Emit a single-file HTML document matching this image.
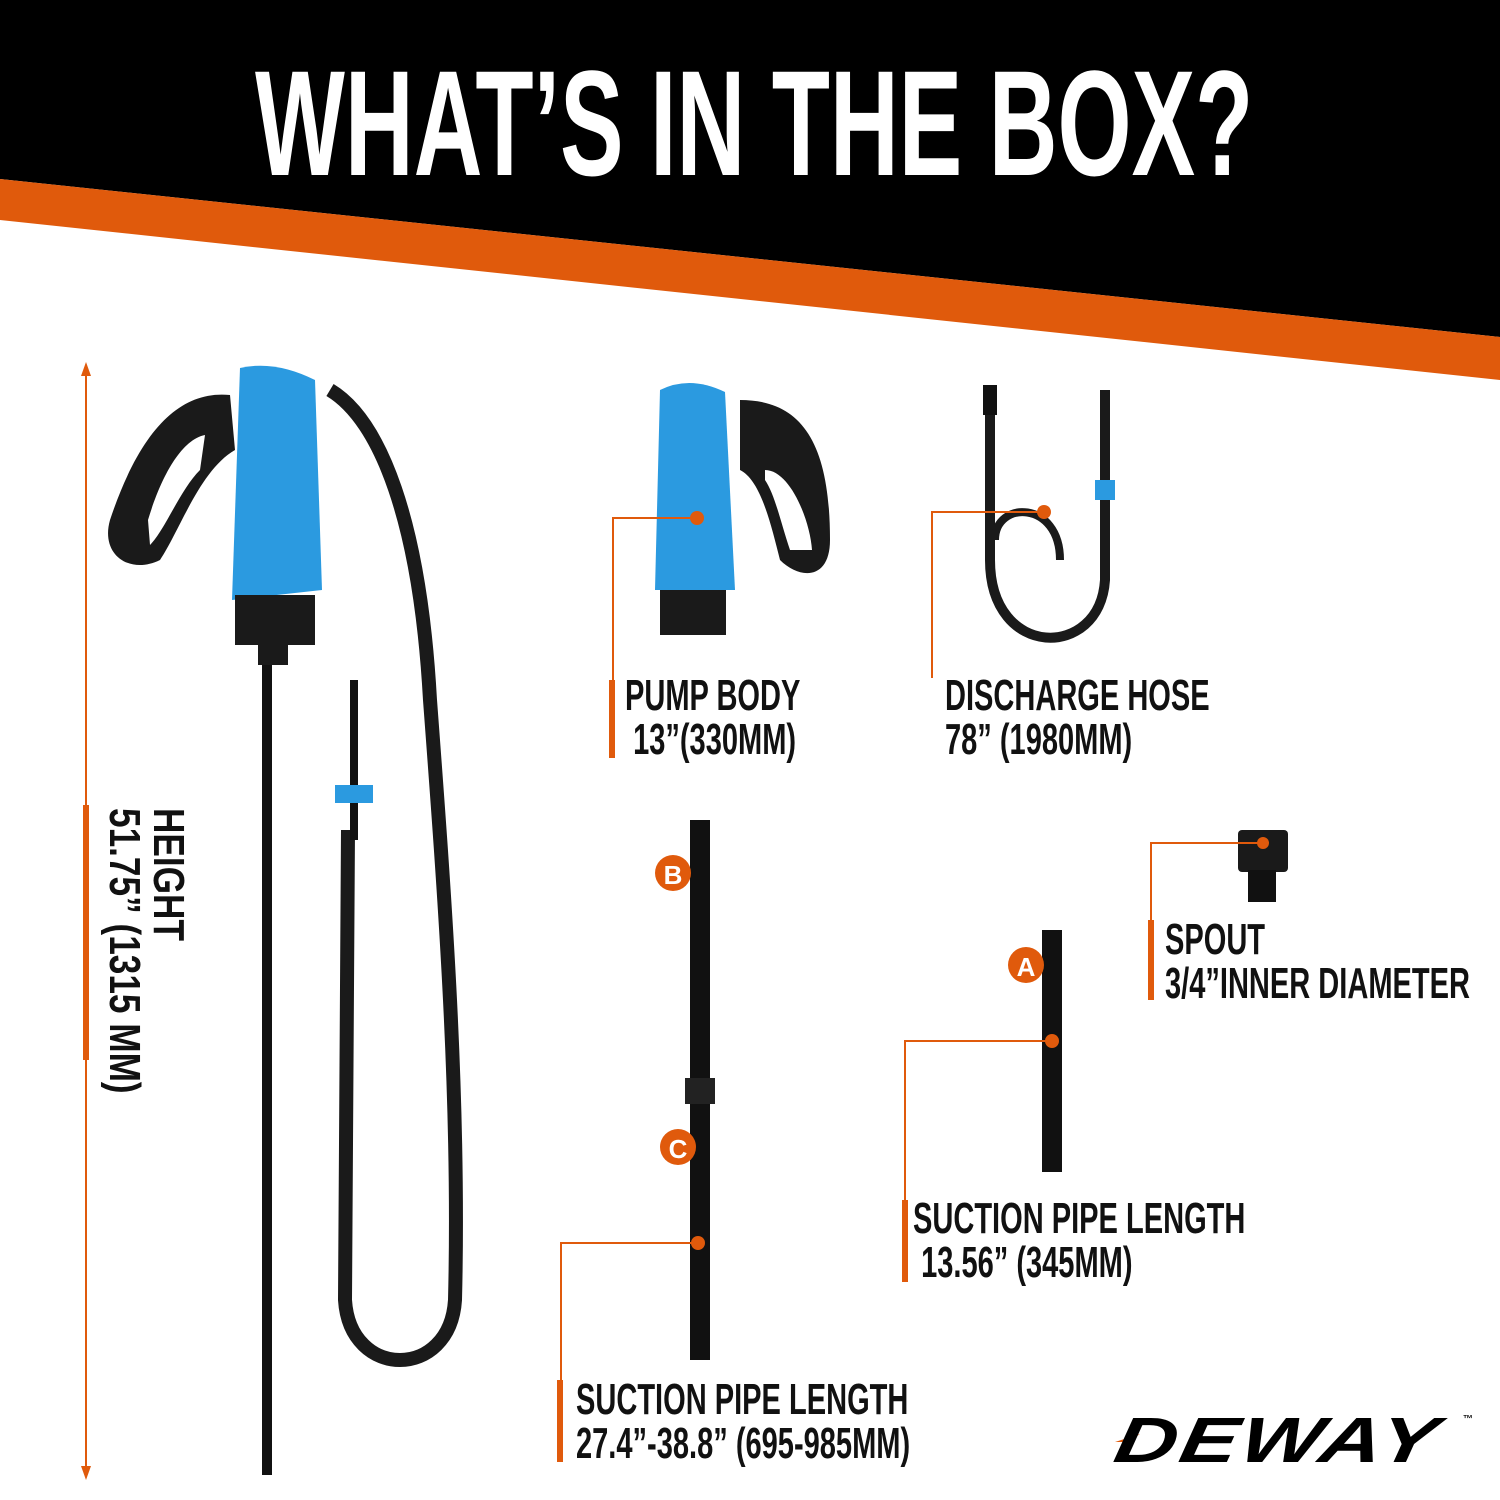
<!DOCTYPE html>
<html><head><meta charset="utf-8"><style>
body{margin:0;width:1500px;height:1500px;background:#fff;overflow:hidden;position:relative;font-family:"Liberation Sans Narrow","Liberation Sans",sans-serif}
.t{position:absolute;font-weight:bold;color:#111;white-space:nowrap;transform-origin:0 0;line-height:1}
.lbl{font-size:44px;transform:scaleX(.66)}
</style></head><body>
<svg width="1500" height="1500" style="position:absolute;left:0;top:0">
<polygon points="0,0 1500,0 1500,337 0,179" fill="#000"/>
<polygon points="0,179 1500,337 1500,380 0,220" fill="#e05a0c"/>
<line x1="86" y1="370" x2="86" y2="1475" stroke="#e05a0c" stroke-width="2"/>
<polygon points="86,362 81,376 91,376" fill="#e05a0c"/>
<polygon points="86,1480 81,1466 91,1466" fill="#e05a0c"/>
<rect x="83" y="805" width="6" height="255" fill="#e05a0c"/>
<path d="M230,395 C180,390 140,430 110,520 C100,555 130,575 160,560 C180,530 200,470 235,450 Z" fill="#1a1a1a"/>
<path d="M148,520 C160,480 180,440 205,435 L200,470 C180,490 165,530 150,545 Z" fill="#fff"/>
<path d="M240,368 Q275,360 315,380 L322,590 L232,600 Z" fill="#2b9ae0"/>
<rect x="235" y="595" width="80" height="50" fill="#1a1a1a"/>
<rect x="258" y="645" width="30" height="20" fill="#1a1a1a"/>
<rect x="262" y="665" width="10" height="810" fill="#111"/>
<path d="M330,390 C380,420 420,520 430,700 C445,900 460,1100 455,1300 C450,1380 350,1380 345,1300 L348,830" stroke="#1a1a1a" stroke-width="14" fill="none"/>
<rect x="350" y="680" width="8" height="160" fill="#111"/>
<rect x="335" y="785" width="38" height="18" fill="#2b9ae0"/>
<path d="M740,400 C800,400 830,440 830,540 C830,580 800,580 780,560 C770,520 760,480 740,470 Z" fill="#1a1a1a"/>
<path d="M765,470 C790,470 810,520 812,550 L790,550 C780,520 775,495 765,480 Z" fill="#fff"/>
<path d="M660,390 Q690,375 725,392 L735,590 L655,590 Z" fill="#2b9ae0"/>
<rect x="660" y="590" width="66" height="45" fill="#1a1a1a"/>
<circle cx="697" cy="518" r="7" fill="#e05a0c"/>
<polyline points="690,518 613,518 613,680" stroke="#e05a0c" stroke-width="2" fill="none"/>
<rect x="609" y="680" width="6" height="78" fill="#e05a0c"/>
<rect x="983" y="385" width="14" height="30" fill="#111"/>
<path d="M990,415 L990,560 C990,660 1100,660 1105,580 L1105,390" stroke="#1a1a1a" stroke-width="10" fill="none"/>
<path d="M995,540 C995,500 1060,500 1060,560" stroke="#1a1a1a" stroke-width="8" fill="none"/>
<rect x="1095" y="480" width="20" height="20" fill="#2b9ae0"/>
<circle cx="1044" cy="512" r="7" fill="#e05a0c"/>
<polyline points="1040,512 932,512 932,678" stroke="#e05a0c" stroke-width="2" fill="none"/>
<rect x="690" y="820" width="20" height="540" fill="#111"/>
<rect x="685" y="1078" width="30" height="26" fill="#222"/>
<circle cx="673" cy="873" r="18" fill="#e05a0c"/><text x="673" y="884" text-anchor="middle" font-size="26" font-weight="bold" fill="#fff" font-family="Liberation Sans">B</text>
<circle cx="678" cy="1147" r="18" fill="#e05a0c"/><text x="678" y="1158" text-anchor="middle" font-size="26" font-weight="bold" fill="#fff" font-family="Liberation Sans">C</text>
<circle cx="698" cy="1243" r="7" fill="#e05a0c"/>
<polyline points="694,1243 561,1243 561,1380" stroke="#e05a0c" stroke-width="2" fill="none"/>
<rect x="557" y="1380" width="6" height="82" fill="#e05a0c"/>
<rect x="1042" y="930" width="20" height="242" fill="#111"/>
<circle cx="1026" cy="965" r="18" fill="#e05a0c"/><text x="1026" y="976" text-anchor="middle" font-size="26" font-weight="bold" fill="#fff" font-family="Liberation Sans">A</text>
<circle cx="1052" cy="1041" r="7" fill="#e05a0c"/>
<polyline points="1048,1041 905,1041 905,1200" stroke="#e05a0c" stroke-width="2" fill="none"/>
<rect x="902" y="1200" width="6" height="82" fill="#e05a0c"/>
<rect x="1238" y="830" width="50" height="42" rx="4" fill="#1a1a1a"/>
<rect x="1248" y="870" width="28" height="32" fill="#111"/>
<circle cx="1263" cy="843" r="6" fill="#e05a0c"/>
<polyline points="1258,843 1151,843 1151,920" stroke="#e05a0c" stroke-width="2" fill="none"/>
<rect x="1148" y="920" width="6" height="80" fill="#e05a0c"/>
<polygon points="1115,1442 1140,1434 1128,1442" fill="#e05a0c"/>
</svg>
<div class="t" style="left:255px;top:48px;font-size:150px;color:#fff;transform:scaleX(.635)">WHAT’S IN THE BOX?</div>
<div class="t" style="left:190px;top:808px;font-size:44px;transform:rotate(90deg) scaleX(.8);line-height:1.0">HEIGHT<br>51.75” (1315 MM)</div>
<div class="t lbl" style="left:625px;top:674px">PUMP BODY<br>&nbsp;13”(330MM)</div>
<div class="t lbl" style="left:945px;top:674px">DISCHARGE HOSE<br>78” (1980MM)</div>
<div class="t lbl" style="left:1165px;top:918px">SPOUT<br>3/4”INNER DIAMETER</div>
<div class="t lbl" style="left:913px;top:1197px">SUCTION PIPE LENGTH<br>&nbsp;13.56” (345MM)</div>
<div class="t lbl" style="left:576px;top:1378px">SUCTION PIPE LENGTH<br>27.4”-38.8” (695-985MM)</div>
<div class="t" style="left:1122px;top:1408px;font-size:64px;font-style:italic;font-weight:900;transform:scaleX(1.35) skewX(-8deg);letter-spacing:2px;color:#000">DEWAY</div>
<div class="t" style="left:1463px;top:1415px;font-size:10px">™</div>
</body></html>
